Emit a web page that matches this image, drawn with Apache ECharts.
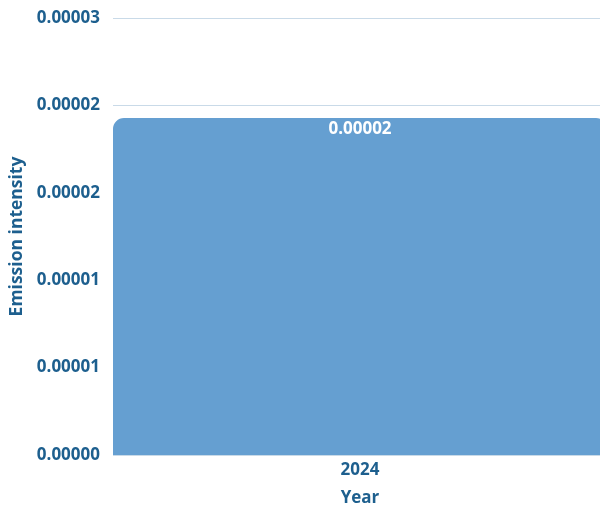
<!DOCTYPE html>
<html><head><meta charset="utf-8">
<script src="https://cdn.jsdelivr.net/npm/echarts@6/dist/echarts.min.js"></script>
<style>html,body{margin:0;padding:0;background:#fff}#c{width:600px;height:506px}</style>
</head><body><div id="c"></div>
<script>
const categories = ['2024'];
const values = [0.00001928];
const yTicks = [0, 0.000005, 0.00001, 0.000015, 0.00002, 0.000025];

const textColor = '#1d5f8e';
const font = '"Open Sans", "Noto Sans", sans-serif';
const chart = echarts.init(document.getElementById('c'), null, {renderer: 'canvas'});
chart.setOption({
  animation: false,
  grid: {left: 113, right: -7, top: 18, bottom: 51, containLabel: false, outerBoundsMode: 'none'},
  xAxis: {
    type: 'category', data: categories,
    name: 'Year', nameLocation: 'middle', nameGap: 35,
    nameTextStyle: {color: textColor, fontWeight: 'bold', fontSize: 17, fontFamily: font},
    axisLine: {show: false}, axisTick: {show: false},
    axisLabel: {color: textColor, fontWeight: 'bold', fontSize: 17, fontFamily: font, margin: 7}
  },
  yAxis: {
    type: 'value', min: yTicks[0], max: yTicks[yTicks.length - 1], interval: yTicks[1] - yTicks[0],
    name: 'Emission intensity', nameLocation: 'middle', nameGap: 85,
    nameTextStyle: {color: textColor, fontWeight: 'bold', fontSize: 17.5, fontFamily: font},
    axisLine: {show: false}, axisTick: {show: false},
    splitLine: {lineStyle: {color: '#c9dae8', width: 1}},
    axisLabel: {color: textColor, fontWeight: 'bold', fontSize: 17, fontFamily: font, margin: 13,
      formatter: v => v.toFixed(5)}
  },
  series: [{
    type: 'bar', data: values, barWidth: '100%',
    itemStyle: {color: '#659fd1', borderRadius: [11, 11, 0, 0]},
    label: {show: true, position: 'insideTop', distance: 3, color: '#ffffff', fontWeight: 'bold',
      fontSize: 17, fontFamily: font, formatter: p => p.value.toFixed(5)}
  }]
});
</script></body></html>
